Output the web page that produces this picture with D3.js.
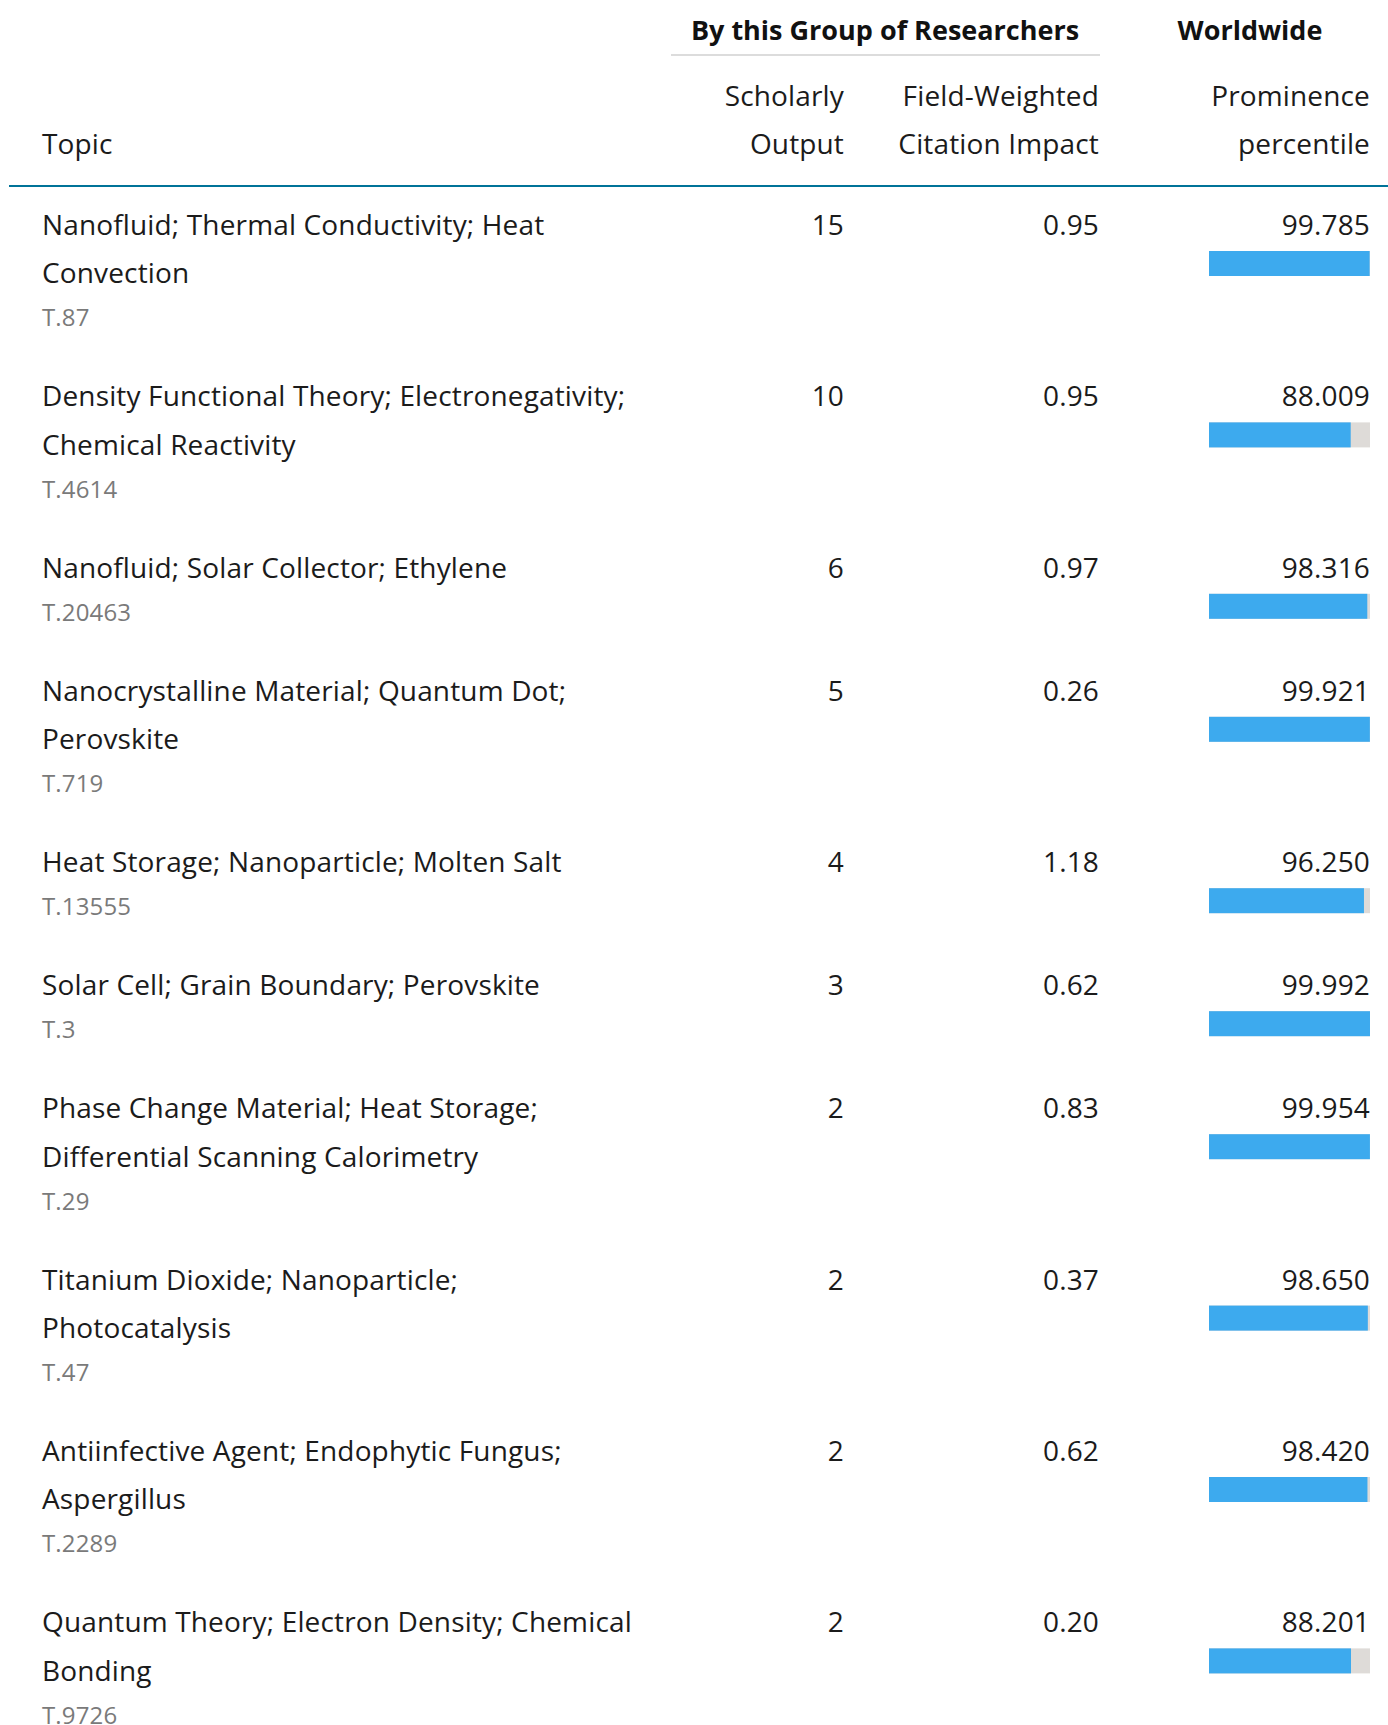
<!DOCTYPE html>
<html>
<head>
<meta charset="utf-8">
<script src="https://cdn.jsdelivr.net/npm/d3@7"></script>
<style>
  body { margin: 0; background: #fff; }
  svg { display: block; font-family: "Open Sans", "Noto Sans", sans-serif; }
</style>
</head>
<body>
<svg id="chart" width="1388" height="1725"></svg>
<script>
// table data
const topics = [
  "Nanofluid; Thermal Conductivity; Heat Convection",
  "Density Functional Theory; Electronegativity; Chemical Reactivity",
  "Nanofluid; Solar Collector; Ethylene",
  "Nanocrystalline Material; Quantum Dot; Perovskite",
  "Heat Storage; Nanoparticle; Molten Salt",
  "Solar Cell; Grain Boundary; Perovskite",
  "Phase Change Material; Heat Storage; Differential Scanning Calorimetry",
  "Titanium Dioxide; Nanoparticle; Photocatalysis",
  "Antiinfective Agent; Endophytic Fungus; Aspergillus",
  "Quantum Theory; Electron Density; Chemical Bonding"
];
const topicCodes = ["T.87", "T.4614", "T.20463", "T.719", "T.13555", "T.3", "T.29", "T.47", "T.2289", "T.9726"];
const scholarlyOutput = [15, 10, 6, 5, 4, 3, 2, 2, 2, 2];
const fwci = [0.95, 0.95, 0.97, 0.26, 1.18, 0.62, 0.83, 0.37, 0.62, 0.20];
const prominence = [99.785, 88.009, 98.316, 99.921, 96.250, 99.992, 99.954, 98.650, 98.420, 88.201];

const svg = d3.select("#chart");

const topicX = 42, outputX = 844, fwciX = 1099, promX = 1370;
const barX0 = 1209, barH = 25;
const lineH = 48.4, codeGap = 43, rowGap = 80;
const fs = 28, codeFs = 24, ls = 0.15;
const textCol = "#1b1b1b";

const barScale = d3.scaleLinear().domain([0, 100]).range([barX0, promX]);

// header
const head = svg.append("g");
head.append("text").attr("x", 885).attr("y", 40).attr("text-anchor", "middle")
  .attr("font-size", 27).attr("font-weight", 700).attr("fill", "#111")
  .text("By this Group of Researchers");
head.append("line").attr("x1", 671).attr("x2", 1100).attr("y1", 55).attr("y2", 55)
  .attr("stroke", "#dcdcdc").attr("stroke-width", 2);
head.append("text").attr("x", 1250).attr("y", 40).attr("text-anchor", "middle")
  .attr("font-size", 27).attr("font-weight", 700).attr("fill", "#111")
  .text("Worldwide");

const subHeads = [
  { x: topicX, anchor: "start", lines: ["", "Topic"] },
  { x: outputX, anchor: "end", lines: ["Scholarly", "Output"] },
  { x: fwciX, anchor: "end", lines: ["Field-Weighted", "Citation Impact"] },
  { x: promX, anchor: "end", lines: ["Prominence", "percentile"] }
];
subHeads.forEach(h => {
  h.lines.forEach((l, i) => {
    head.append("text").attr("x", h.x).attr("y", 106 + i * lineH)
      .attr("text-anchor", h.anchor).attr("font-size", fs).attr("letter-spacing", ls)
      .attr("fill", textCol).text(l);
  });
});
head.append("line").attr("x1", 9).attr("x2", 1388).attr("y1", 186).attr("y2", 186)
  .attr("stroke", "#007398").attr("stroke-width", 2);

// wrap a string into lines using a measuring text node
const measure = svg.append("text").attr("font-size", fs).attr("letter-spacing", ls)
  .attr("visibility", "hidden");
function wrap(str, maxW) {
  const words = str.split(" ");
  const lines = [];
  let cur = "";
  words.forEach(w => {
    const test = cur ? cur + " " + w : w;
    measure.text(test);
    if (cur && measure.node().getComputedTextLength() > maxW) {
      lines.push(cur);
      cur = w;
    } else {
      cur = test;
    }
  });
  lines.push(cur);
  return lines;
}

const rows = topics.map((t, i) => ({
  lines: wrap(t, 598),
  code: topicCodes[i],
  output: scholarlyOutput[i],
  fwci: fwci[i],
  prom: prominence[i]
}));
measure.remove();

let y = 235;
rows.forEach(r => {
  r.y = y;
  y += (r.lines.length - 1) * lineH + codeGap + rowGap;
});

const row = svg.selectAll("g.row").data(rows).join("g").attr("class", "row")
  .attr("transform", d => `translate(0,${d.y})`);

row.each(function(d) {
  const g = d3.select(this);
  d.lines.forEach((l, i) => {
    g.append("text").attr("x", topicX).attr("y", i * lineH)
      .attr("font-size", fs).attr("letter-spacing", ls).attr("fill", textCol).text(l);
  });
  g.append("text").attr("x", topicX).attr("y", (d.lines.length - 1) * lineH + codeGap)
    .attr("font-size", codeFs).attr("letter-spacing", ls).attr("fill", "#7a7a7a").text(d.code);
});

const numCell = (x, fmt) => row.append("text").attr("x", x).attr("text-anchor", "end")
  .attr("font-size", fs).attr("letter-spacing", ls).attr("fill", textCol).text(fmt);
numCell(outputX, d => d.output);
numCell(fwciX, d => d3.format(".2f")(d.fwci));
numCell(promX, d => d3.format(".3f")(d.prom));

row.append("rect").attr("x", barX0).attr("y", 16)
  .attr("width", barScale(100) - barX0).attr("height", barH).attr("fill", "#dedbd8");
row.append("rect").attr("x", barX0).attr("y", 16)
  .attr("width", d => barScale(d.prom) - barX0).attr("height", barH).attr("fill", "#3daaee");
</script>
</body>
</html>
